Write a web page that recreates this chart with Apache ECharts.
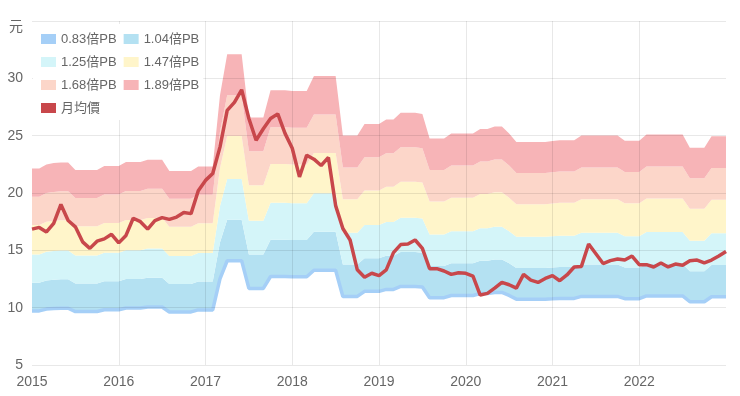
<!DOCTYPE html>
<html><head><meta charset="utf-8">
<script src="https://cdn.jsdelivr.net/npm/echarts@6/dist/echarts.min.js"></script>
<style>html,body{margin:0;padding:0;background:#fff}#c{width:740px;height:396px}</style>
</head><body><div id="c"></div>
<script>
// Monthly categories 2015-01 .. 2023-01
const months = [];
for (let y = 2015; y <= 2022; y++) for (let m = 1; m <= 12; m++) months.push(y + '-' + String(m).padStart(2, '0'));
months.push('2023-01');

const yTicks = [5, 10, 15, 20, 25, 30, 35];
const yUnit = '元';
const pbMultiples = [0.83, 1.04, 1.25, 1.47, 1.68, 1.89];
const pbNames = ['0.83倍PB', '1.04倍PB', '1.25倍PB', '1.47倍PB', '1.68倍PB', '1.89倍PB'];
const priceName = '月均價';

const bookValue = [
  11.71, 11.71, 11.90, 11.96, 11.99, 11.99, 11.64, 11.64, 11.64, 11.64, 11.83, 11.83,
  11.83, 12.01, 12.01, 12.01, 12.12, 12.12, 12.12, 11.60, 11.60, 11.60, 11.60, 11.81,
  11.81, 11.81, 15.08, 16.98, 16.98, 16.98, 14.07, 14.07, 14.07, 15.32, 15.32, 15.32,
  15.29, 15.29, 15.29, 15.98, 15.98, 15.98, 15.98, 13.23, 13.23, 13.23, 13.76, 13.76,
  13.76, 13.97, 13.97, 14.28, 14.28, 14.28, 14.23, 13.10, 13.10, 13.10, 13.33, 13.33,
  13.33, 13.33, 13.54, 13.54, 13.65, 13.65, 13.33, 12.94, 12.94, 12.94, 12.94, 12.94,
  12.98, 13.02, 13.02, 13.02, 13.23, 13.23, 13.23, 13.23, 13.23, 13.23, 12.99, 12.99,
  12.99, 13.28, 13.28, 13.28, 13.28, 13.28, 13.28, 12.67, 12.67, 12.67, 13.20, 13.20,
  13.20
];

// Monthly average price
const monthlyPrice = [
  16.85, 17.0, 16.6, 17.35, 19.0, 17.6, 17.05, 15.74, 15.17, 15.8, 16.0, 16.4,
  15.65, 16.3, 17.8, 17.5, 16.85, 17.6, 17.85, 17.7, 17.9, 18.3, 18.2, 20.2,
  21.1, 21.7, 24.0, 27.2, 27.9, 29.0, 26.5, 24.6, 25.6, 26.5, 26.9, 25.2,
  23.9, 21.4, 23.3, 22.95, 22.4, 23.1, 18.9, 16.9, 15.9, 13.3, 12.65, 13.0,
  12.8, 13.3, 14.8, 15.5, 15.55, 15.9, 15.17, 13.4, 13.4, 13.2, 12.9, 13.05,
  13.0, 12.75, 11.1, 11.25, 11.7, 12.2, 12.0, 11.7, 12.9, 12.4, 12.2, 12.55,
  12.8, 12.35, 12.85, 13.55, 13.6, 15.55, 14.7, 13.85, 14.1, 14.25, 14.15, 14.5,
  13.75, 13.75, 13.55, 13.9, 13.55, 13.8, 13.7, 14.1, 14.15, 13.9, 14.15, 14.5,
  14.9
];

const bandColors = ['#a5cff7', '#b4e1f2', '#d4f5f9', '#fff5ca', '#fcd6c9', '#f7b4b7'];
const priceColor = '#c8474b';

const bands = pbMultiples.map(m => bookValue.map(b => b * m));
const series = pbNames.map((name, k) => {
  const data = k === 0 ? bands[0].map(v => +v.toFixed(3))
    : bands[k].map((v, i) => +(v - bands[k - 1][i]).toFixed(3));
  const s = {
    name, type: 'line', stack: 'pb', data, showSymbol: false, symbol: 'none',
    color: bandColors[k], silent: true, animation: false
  };
  if (k === 0) {
    s.lineStyle = { width: 3.5, color: bandColors[0] };
    s.z = 2;
  } else {
    s.lineStyle = { width: 0 };
    s.areaStyle = { color: bandColors[k], opacity: 1 };
    s.z = 1;
  }
  return s;
});
series.push({
  name: priceName, type: 'line', data: monthlyPrice, showSymbol: false, symbol: 'none',
  color: priceColor, lineStyle: { width: 3.5, color: priceColor }, z: 4, animation: false
});

const font = 'Liberation Sans, Arial, "Noto Sans CJK TC", sans-serif';
const gridLine = 'rgba(0,0,0,0.09)';
const chart = echarts.init(document.getElementById('c'), null, { renderer: 'canvas' });
chart.setOption({
  animation: false,
  backgroundColor: '#fff',
  textStyle: { fontFamily: font },
  grid: { left: 32, right: 14, top: 21, bottom: 31, containLabel: false },
  legend: {
    data: pbNames.concat([priceName]),
    left: 33, top: 24, width: 200,
    padding: [7, 4, 4, 8],
    backgroundColor: '#fff',
    itemGap: 7, itemWidth: 15, itemHeight: 10, icon: 'rect',
    textStyle: { color: '#666', fontSize: 13, lineHeight: 16, fontFamily: font },
    z: 10
  },
  xAxis: {
    type: 'category', data: months, boundaryGap: false, z: 3,
    axisLine: { show: false }, axisTick: { show: false },
    axisLabel: {
      color: '#666', fontSize: 14, margin: 10, fontFamily: font,
      interval: (i) => i % 12 === 0 && i < 96,
      formatter: (v) => v.slice(0, 4)
    },
    splitLine: { show: true, interval: (i) => i % 12 === 0 && i > 0 && i < 96, lineStyle: { color: gridLine, width: 1 } }
  },
  yAxis: {
    type: 'value', min: yTicks[0], max: yTicks[yTicks.length - 1], interval: 5, z: 3,
    axisLine: { show: false }, axisTick: { show: false },
    axisLabel: {
      color: '#666', fontSize: 14, margin: 9, fontFamily: font,
      formatter: (v) => v === yTicks[yTicks.length - 1] ? '{u|' + yUnit + '}' : String(v),
      rich: { u: { color: '#666', fontSize: 14, fontFamily: font, padding: [12, 0, 0, 0] } }
    },
    splitLine: { show: true, lineStyle: { color: gridLine, width: 1 } }
  },
  series
});
</script>
</body></html>
